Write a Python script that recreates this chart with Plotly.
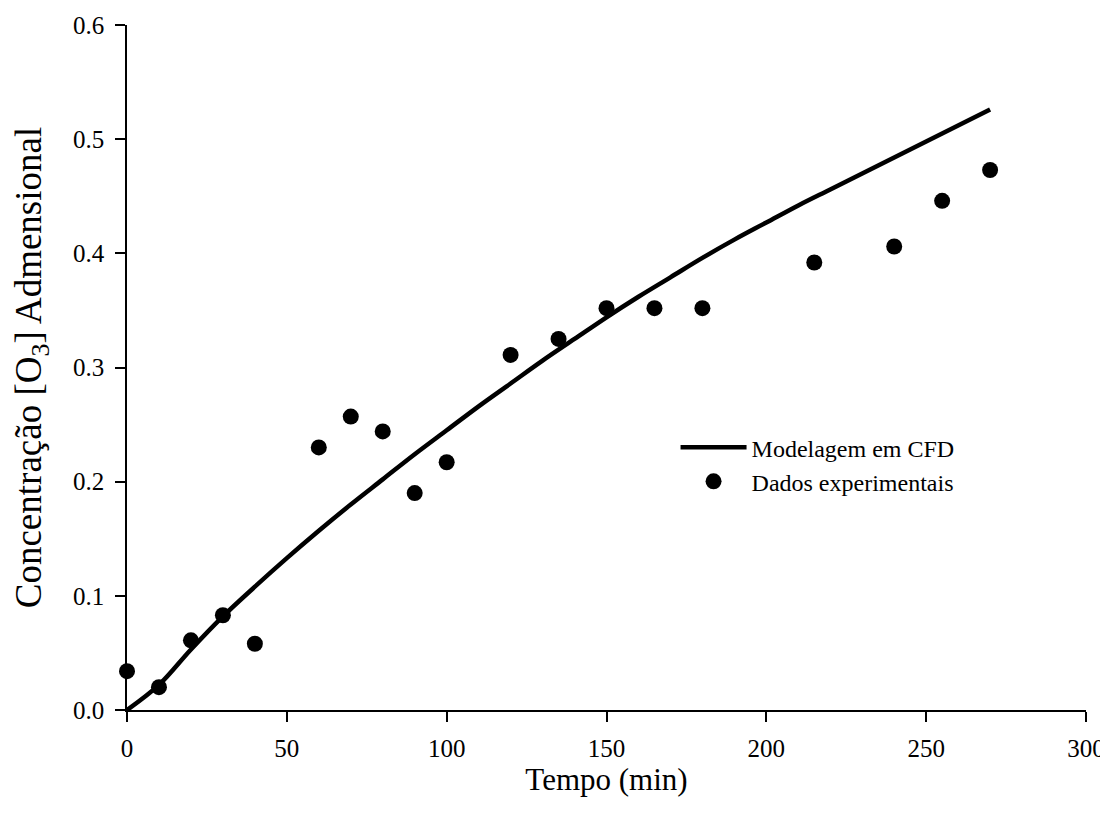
import plotly.graph_objects as go

# CFD model curve
model_t = [0, 10, 20, 30, 40, 50, 60, 70, 80, 90, 100, 110, 120, 130, 140,
           150, 160, 170, 180, 190, 200, 210, 220, 230, 240, 250, 260, 270]
model_c = [0.000, 0.022, 0.053, 0.082, 0.108, 0.133, 0.157, 0.180, 0.202, 0.224,
           0.245, 0.266, 0.286, 0.306, 0.325, 0.344, 0.362, 0.379, 0.396, 0.412,
           0.427, 0.442, 0.456, 0.470, 0.484, 0.498, 0.512, 0.526]

# Experimental data
exp_t = [0, 10, 20, 30, 40, 60, 70, 80, 90, 100, 120, 135, 150, 165, 180, 215, 240, 255, 270]
exp_c = [0.034, 0.020, 0.061, 0.083, 0.058, 0.230, 0.257, 0.244, 0.190, 0.217,
         0.311, 0.325, 0.352, 0.352, 0.352, 0.392, 0.406, 0.446, 0.473]

x_ticks = [0, 50, 100, 150, 200, 250, 300]
y_ticks = [0.0, 0.1, 0.2, 0.3, 0.4, 0.5, 0.6]

x_title = "Tempo (min)"
y_title = "Concentração [O<sub>3</sub>] Admensional"

font_family = "Liberation Serif"

fig = go.Figure()
fig.add_trace(go.Scatter(x=model_t, y=model_c, mode="lines", name="Modelagem em CFD",
                         line=dict(color="black", width=4.5, shape="spline", smoothing=1.0)))
fig.add_trace(go.Scatter(x=exp_t, y=exp_c, mode="markers", name="Dados experimentais",
                         marker=dict(color="black", size=16), cliponaxis=False))

axis_common = dict(showgrid=False, zeroline=False, showline=True, linecolor="black",
                   linewidth=1.5, ticks="outside", ticklen=10, tickwidth=1.5,
                   tickcolor="black", automargin=False,
                   tickfont=dict(family=font_family, size=25, color="black"))

fig.update_layout(
    width=1100, height=800,
    margin=dict(l=119, r=22, t=17, b=98),
    paper_bgcolor="white", plot_bgcolor="white",
    font=dict(family=font_family, color="black"),
    showlegend=True,
    legend=dict(x=0.572, y=0.416, xanchor="left", yanchor="top",
                font=dict(family=font_family, size=24, color="black"),
                bgcolor="rgba(0,0,0,0)", itemwidth=66),
    xaxis=dict(range=[0, 300], tickvals=x_ticks, ticklabelstandoff=5,
               title=dict(text=x_title, font=dict(family=font_family, size=31), standoff=6),
               **axis_common),
    yaxis=dict(range=[0, 0.6], tickvals=y_ticks, tickformat=".1f", ticklabelstandoff=6,
               title=dict(text=y_title, font=dict(family=font_family, size=37), standoff=26),
               **axis_common),
)

fig.write_html("out.html")
